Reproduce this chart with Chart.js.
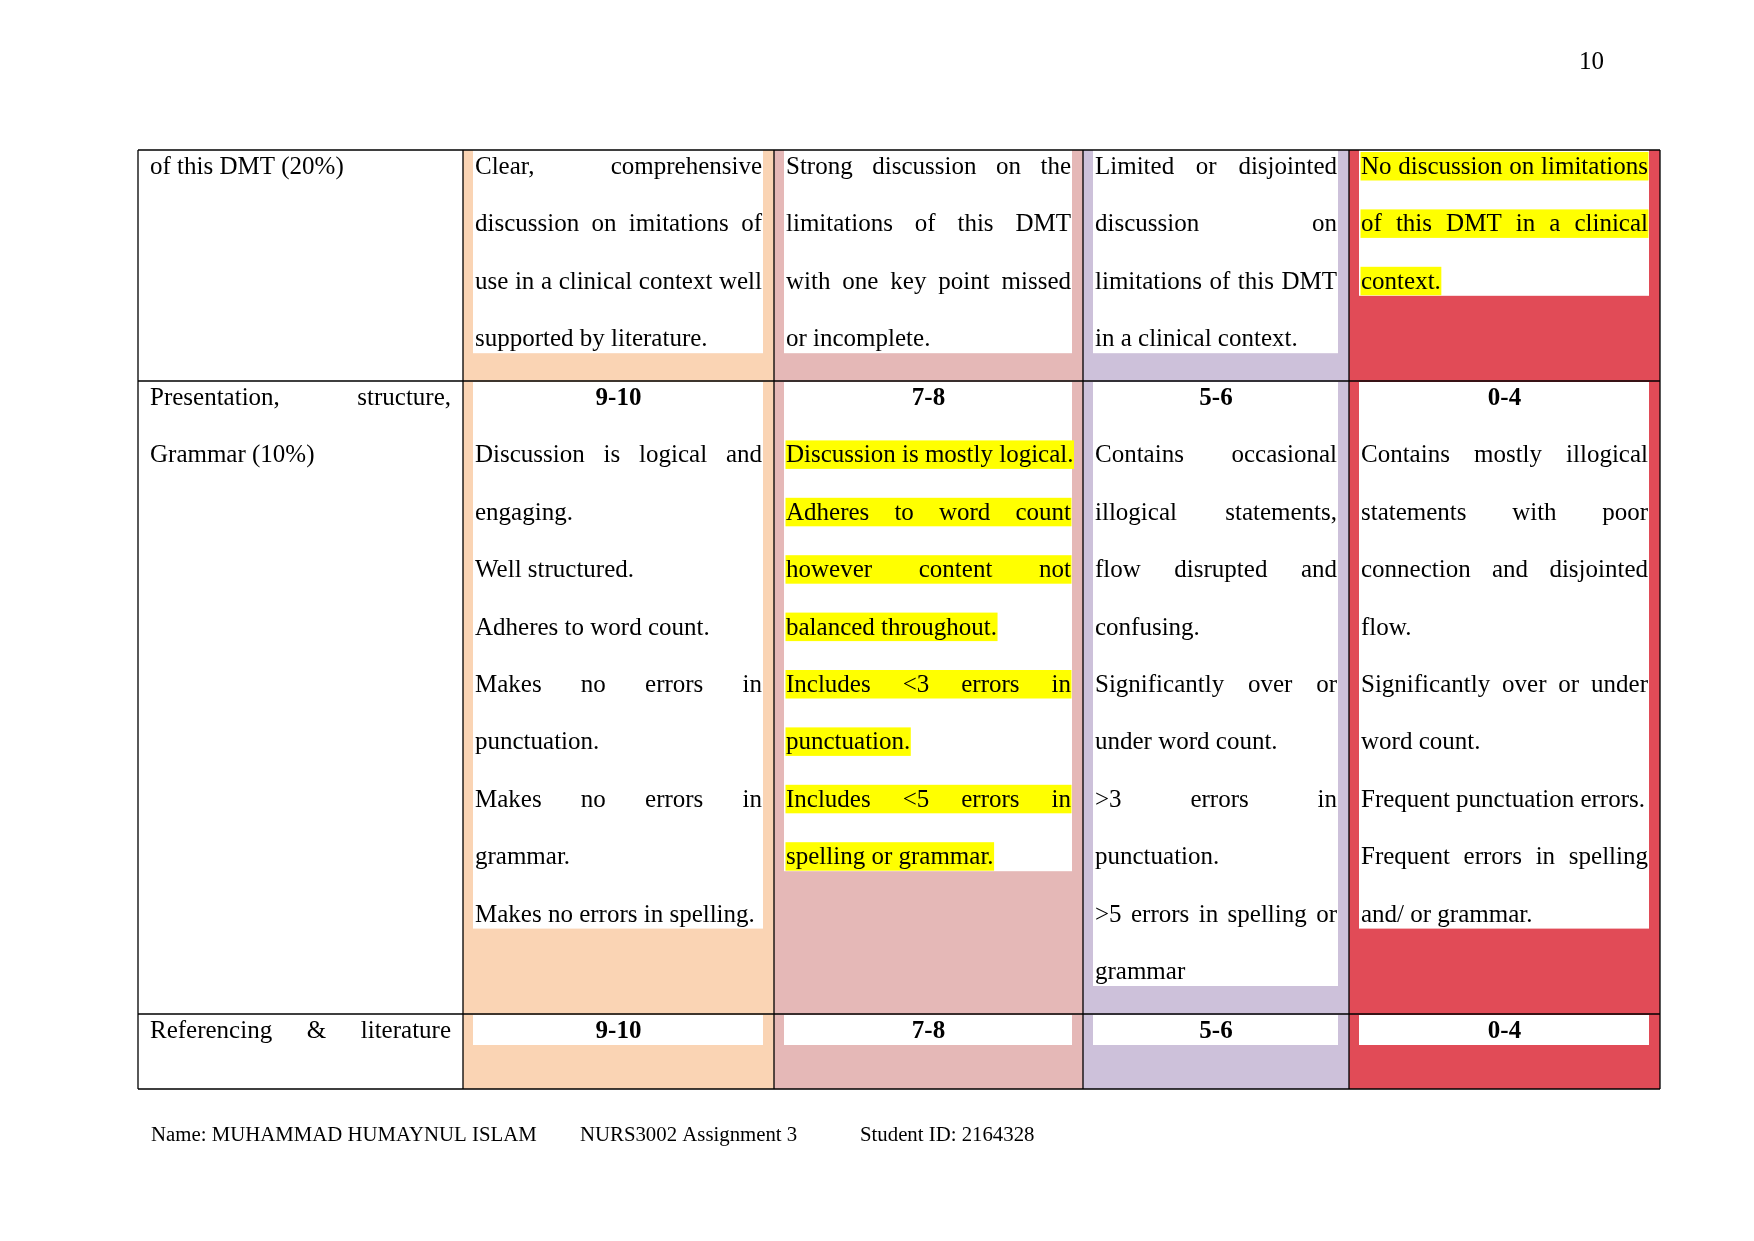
<!DOCTYPE html>
<html>
<head>
<meta charset="utf-8">
<script src="https://cdn.jsdelivr.net/npm/chart.js@4.4.1/dist/chart.umd.min.js"></script>
<style>
html,body{margin:0;padding:0;background:#fff;}
#c{display:block;}
</style>
</head>
<body>
<canvas id="c" width="1754" height="1241"></canvas>
<script>
// ---------- DATA ----------
const pageNumber = "10";
const footerItems = ["Name: MUHAMMAD HUMAYNUL ISLAM", "NURS3002 Assignment 3", "Student ID: 2164328"];
const bands = ["9-10", "7-8", "5-6", "0-4"];
// band label shown at top of row? (row 0 continues from previous page)
const rowShowsBand = [false, true, true];
// criteria: each row = list of paragraphs, each paragraph = list of lines
const criteria = [
  [["of this DMT (20%)"]],
  [["Presentation, structure,", "Grammar (10%)"]],
  [["Referencing & literature"]]
];
const criteriaContinues = [false, false, true];
const band910 = [
  [["Clear, comprehensive", "discussion on imitations of", "use in a clinical context well", "supported by literature."]],
  [["Discussion is logical and", "engaging."], ["Well structured."], ["Adheres to word count."],
   ["Makes no errors in", "punctuation."], ["Makes no errors in", "grammar."], ["Makes no errors in spelling."]],
  []
];
const band78 = [
  [["Strong discussion on the", "limitations of this DMT", "with one key point missed", "or incomplete."]],
  [["Discussion is mostly logical."], ["Adheres to word count", "however content not", "balanced throughout."],
   ["Includes <3 errors in", "punctuation."], ["Includes <5 errors in", "spelling or grammar."]],
  []
];
const band56 = [
  [["Limited or disjointed", "discussion on", "limitations of this DMT", "in a clinical context."]],
  [["Contains occasional", "illogical statements,", "flow disrupted and", "confusing."],
   ["Significantly over or", "under word count."], [">3 errors in", "punctuation."],
   [">5 errors in spelling or", "grammar"]],
  []
];
const band04 = [
  [["No discussion on limitations", "of this DMT in a clinical", "context."]],
  [["Contains mostly illogical", "statements with poor", "connection and disjointed", "flow."],
   ["Significantly over or under", "word count."], ["Frequent punctuation errors."],
   ["Frequent errors in spelling", "and/ or grammar."]],
  []
];
const bandTexts = [band910, band78, band56, band04];
// highlighted cells: [row, band]
const highlighted = [[0, 3], [1, 1]];

// ---------- LAYOUT / STYLE ----------
const colEdges = [138, 463, 774, 1083, 1349, 1660];
const rowEdges = [150, 381, 1014, 1089];
const bandColors = ["#FAD4B4", "#E5B8B7", "#CDC1DA", "#E14B57"];
const FONT = "'Liberation Serif', 'Times New Roman', serif";
const FS = 25, LH = 57.4, BASE = 24;

const rubricPlugin = {
  id: 'rubric',
  afterDraw(chart) {
    const ctx = chart.ctx;
    const xs = chart.scales.x, ys = chart.scales.y;
    const X = v => xs.getPixelForValue(v), Y = v => ys.getPixelForValue(v);
    const rect = (x0, y0, x1, y1, col) => {
      ctx.fillStyle = col;
      ctx.fillRect(X(x0), Y(y0), X(x1) - X(x0), Y(y1) - Y(y0));
    };
    ctx.save();
    ctx.textBaseline = 'alphabetic';

    const isHi = (r, b) => highlighted.some(h => h[0] === r && h[1] === b);

    function drawLine(text, xl, xr, yb, justify, bold) {
      ctx.font = (bold ? 'bold ' : '') + FS + 'px ' + FONT;
      ctx.fillStyle = '#000';
      const words = text.split(' ');
      if (justify && words.length > 1) {
        const ws = words.map(w => ctx.measureText(w).width);
        const sum = ws.reduce((a, b) => a + b, 0);
        const gap = ((X(xr) - X(xl)) - sum) / (words.length - 1);
        let x = X(xl);
        words.forEach((w, i) => { ctx.fillText(w, x, Y(yb)); x += ws[i] + gap; });
      } else {
        ctx.fillText(text, X(xl), Y(yb));
      }
    }
    function lineWidth(text, xl, xr, justify) {
      ctx.font = FS + 'px ' + FONT;
      if (justify && text.split(' ').length > 1) return xr - xl;
      return ctx.measureText(text).width;
    }

    // cell shading
    for (let r = 0; r < 3; r++) {
      for (let b = 0; b < 4; b++) {
        rect(colEdges[b + 1], rowEdges[r], colEdges[b + 2], rowEdges[r + 1], bandColors[b]);
      }
    }

    // cells content
    for (let r = 0; r < 3; r++) {
      const top = rowEdges[r];
      {
        const xl = colEdges[0] + 12, xr = colEdges[1] - 12;
        let i = 0;
        criteria[r].forEach((para, pi) => {
          para.forEach((ln, li) => {
            const last = li === para.length - 1 && !(criteriaContinues[r] && pi === criteria[r].length - 1);
            drawLine(ln, xl, xr, top + BASE + i * LH, !last, false);
            i++;
          });
        });
      }
      for (let b = 0; b < 4; b++) {
        const xl = colEdges[b + 1] + 12, xr = colEdges[b + 2] - 12;
        const lines = [];
        if (rowShowsBand[r]) lines.push({t: bands[b], band: true});
        bandTexts[b][r].forEach(para => para.forEach((ln, li) => lines.push({t: ln, just: li < para.length - 1})));
        if (!lines.length) continue;
        const n = lines.length;
        const wTop = r === 0 ? top : top + 1;
        const wBot = top + BASE + (n - 1) * LH + 7;
        rect(xl - 2, wTop, xr + 1, wBot, '#FFFFFF');
        const hi = isHi(r, b);
        lines.forEach((L, i) => {
          const yb = top + BASE + i * LH;
          if (hi && !L.band) {
            const w = lineWidth(L.t, xl, xr, L.just);
            rect(xl - 0.5, yb - 22, xl + w + 0.5, yb + 6.5, '#FFFF00');
          }
          if (L.band) {
            ctx.font = 'bold ' + FS + 'px ' + FONT;
            ctx.fillStyle = '#000';
            ctx.textAlign = 'center';
            ctx.fillText(L.t, X((xl + xr) / 2), Y(yb));
            ctx.textAlign = 'left';
          } else {
            drawLine(L.t, xl, xr, yb, L.just, false);
          }
        });
      }
    }

    // borders
    ctx.strokeStyle = '#000';
    ctx.lineWidth = 1.3;
    ctx.beginPath();
    colEdges.forEach(x => { ctx.moveTo(X(x), Y(rowEdges[0])); ctx.lineTo(X(x), Y(rowEdges[3])); });
    rowEdges.forEach(y => { ctx.moveTo(X(colEdges[0]), Y(y)); ctx.lineTo(X(colEdges[5]), Y(y)); });
    ctx.stroke();

    // page number
    ctx.font = FS + 'px ' + FONT;
    ctx.fillStyle = '#000';
    ctx.fillText(pageNumber, X(1579), Y(69));

    // footer
    ctx.font = '20.8px ' + FONT;
    const fx = [151, 580, 860];
    footerItems.forEach((t, i) => ctx.fillText(t, X(fx[i]), Y(1141)));
    ctx.restore();
  }
};

new Chart(document.getElementById('c'), {
  type: 'scatter',
  data: { datasets: [{ data: [] }] },
  options: {
    responsive: false,
    animation: false,
    devicePixelRatio: 1,
    events: [],
    layout: { padding: 0 },
    plugins: { legend: { display: false }, tooltip: { enabled: false } },
    scales: {
      x: { type: 'linear', min: 0, max: 1754, display: false },
      y: { type: 'linear', min: 0, max: 1241, reverse: true, display: false }
    }
  },
  plugins: [rubricPlugin]
});
</script>
</body>
</html>
